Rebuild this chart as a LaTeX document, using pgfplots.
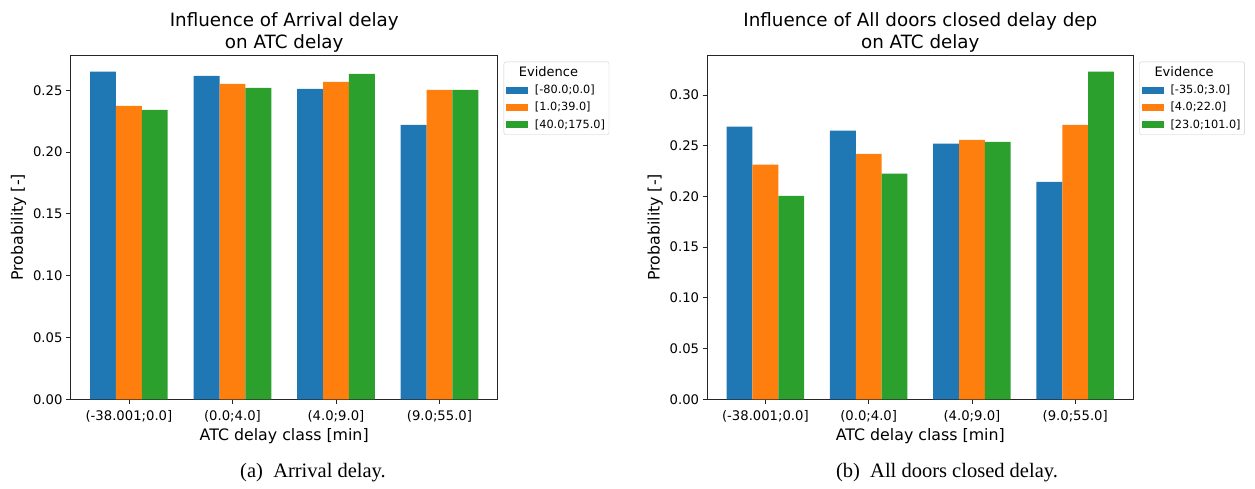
\documentclass[border=0pt]{standalone}
\usepackage{fontspec}
\setmainfont{DejaVu Sans}
\newfontfamily\capfont{Liberation Serif}
\usepackage{pgfplots}
\pgfplotsset{compat=1.18}
\definecolor{tabblue}{HTML}{1F77B4}
\definecolor{taborange}{HTML}{FF7F0E}
\definecolor{tabgreen}{HTML}{2CA02C}
\pgfplotsset{
  mybar/.style={ybar, bar width=0.25, draw=none, fill=#1,
    legend image code/.code={\fill[#1, sharp corners] (0pt,-3.5pt) rectangle (22pt,3.5pt);}},
  mystyle/.style={
    scale only axis, width=427pt, height=344pt, anchor=south west,
    xmin=-0.5625, xmax=3.5625, ymin=0,
    xtick={0,1,2,3},
    tick align=outside, tick pos=left, major tick length=4.7pt,
    axis line style={line width=0.8pt, black!85},
    every tick/.style={black!85, line width=0.8pt},
    ticklabel style={font=\fontsize{13.2}{15}\selectfont},
    xticklabel style={yshift=-2.5pt},
    yticklabel style={/pgf/number format/.cd, fixed, fixed zerofill, precision=2, assume math mode=true},
    xlabel={ATC delay class [min]}, ylabel={Probability [-]},
    label style={font=\fontsize{15.8}{18}\selectfont},
    title style={font=\fontsize{18.3}{22}\selectfont, align=center, anchor=south, at={(0.5,1)}, yshift=-3pt, inner sep=0pt},
    legend style={at={(1,1)}, anchor=north west, xshift=6pt, yshift=-6.4pt,
      draw=black!20, rounded corners=2pt, font=\fontsize{11.3}{13}\selectfont,
      inner xsep=2pt, inner ysep=3pt, row sep=3pt,
      /tikz/every odd column/.append style={column sep=5pt}},
    legend cell align=left,
  }
}
\newcommand{\catA}{(-38.001;0.0]}
\newcommand{\catB}{(0.0;4.0]}
\newcommand{\catC}{(4.0;9.0]}
\newcommand{\catD}{(9.0;55.0]}
\begin{document}
\begin{tikzpicture}[x=1pt,y=1pt]
\useasboundingbox (0,0) rectangle (1255,489);
\begin{axis}[mystyle, at={(70.7pt,89.7pt)}, ymax=0.27825,
  xticklabels={{\catA},{\catB},{\catC},{\catD}},
  ytick={0,0.05,0.10,0.15,0.20,0.25},
  title={Influence of Arrival delay\\on ATC delay}]
\addlegendimage{empty legend}
\addlegendentry{\hspace*{-16pt}\fontsize{13}{15}\selectfont Evidence}
\addplot[mybar=tabblue, bar shift=-0.25] coordinates {(0,0.2650) (1,0.2616) (2,0.2511) (3,0.2220)};
\addlegendentry{{[-80.0;0.0]}}
\addplot[mybar=taborange, bar shift=0] coordinates {(0,0.2374) (1,0.2551) (2,0.2567) (3,0.2503)};
\addlegendentry{{[1.0;39.0]}}
\addplot[mybar=tabgreen, bar shift=0.25] coordinates {(0,0.2341) (1,0.2519) (2,0.2632) (3,0.2503)};
\addlegendentry{{[40.0;175.0]}}
\end{axis}
\begin{axis}[mystyle, at={(707.3pt,89.7pt)}, width=426pt, ymax=0.3392,
  xticklabels={{\catA},{\catB},{\catC},{\catD}},
  ytick={0,0.05,0.10,0.15,0.20,0.25,0.30},
  title={Influence of All doors closed delay dep\\on ATC delay}]
\addlegendimage{empty legend}
\addlegendentry{\hspace*{-16pt}\fontsize{13}{15}\selectfont Evidence}
\addplot[mybar=tabblue, bar shift=-0.25] coordinates {(0,0.2688) (1,0.2648) (2,0.2520) (3,0.2145)};
\addlegendentry{{[-35.0;3.0]}}
\addplot[mybar=taborange, bar shift=0] coordinates {(0,0.2313) (1,0.2421) (2,0.2559) (3,0.2707)};
\addlegendentry{{[4.0;22.0]}}
\addplot[mybar=tabgreen, bar shift=0.25] coordinates {(0,0.2007) (1,0.2224) (2,0.2539) (3,0.3230)};
\addlegendentry{{[23.0;101.0]}}
\end{axis}
\node[font=\capfont\fontsize{20.5}{24}\selectfont] at (313,16) {(a)\ \ Arrival delay.};
\node[font=\capfont\fontsize{20.5}{24}\selectfont] at (947,16) {(b)\ \ All doors closed delay.};
\end{tikzpicture}
\end{document}
